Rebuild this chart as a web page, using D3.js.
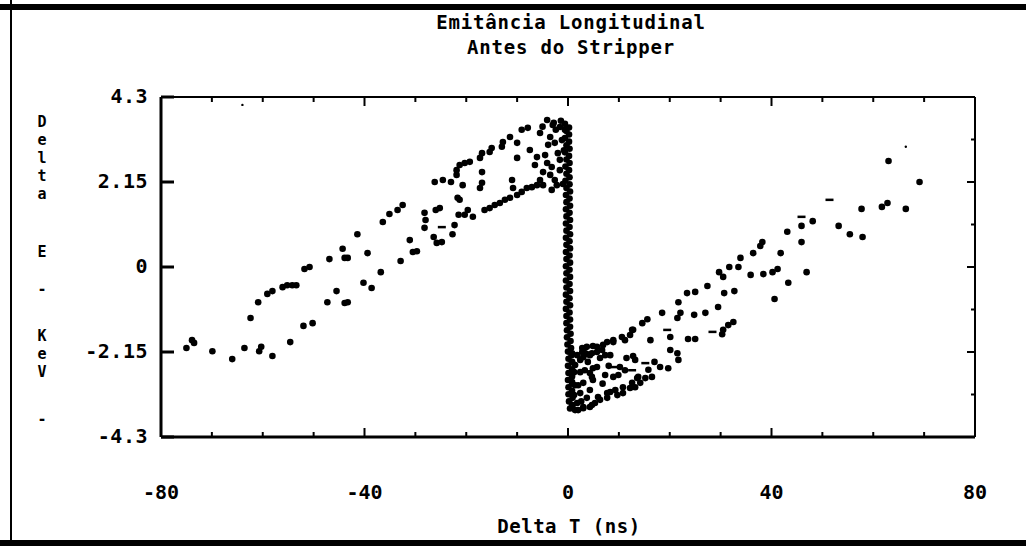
<!DOCTYPE html>
<html>
<head>
<meta charset="utf-8">
<script src="https://cdn.jsdelivr.net/npm/d3@7"></script>
<style>
  body { margin: 0; background: #fff; }
  text { font-family: "DejaVu Sans Mono", monospace; font-weight: bold; fill: #000; }
</style>
</head>
<body>
<script>
//chart texts
const titleLines = ["Emitância Longitudinal", "Antes do Stripper"];
const xTitle = "Delta T (ns)";
const yTitleChars = ["D", "e", "l", "t", "a", "E", "-", "K", "e", "V", "-"];

//tick values and labels
const xMajorTicks = [-80, -40, 0, 40, 80];
const xMinorTicks = [-70, -60, -50, -30, -20, -10, 10, 20, 30, 50, 60, 70];
const yTicks = [-4.3, -2.15, 0, 2.15, 4.3];
const yTickLabels = ["-4.3", "-2.15", "0", "2.15", "4.3"];
const yMinorTicks = [-3.225, -1.075, 1.075, 3.225];

//data [delta T (ns), delta E (keV)]
const leftBranch = [
  [-75.0,-2.05],[-73.9,-1.85],[-73.5,-1.92],[-69.9,-2.13],[-66.0,-2.33],[-63.6,-2.05],[-62.4,-1.29],
  [-60.9,-0.89],[-60.7,-2.13],[-60.3,-2.02],[-59.1,-0.68],[-58.1,-0.61],[-58.1,-2.25],[-56.1,-0.51],
  [-55.2,-0.46],[-54.2,-0.46],[-53.4,-0.46],[-54.6,-1.90],[-52.0,-1.49],[-51.8,-0.05],[-50.8,0.0],
  [-50.2,-1.42],[-47.3,-0.89],[-46.9,0.20],[-45.5,-0.61],[-44.3,0.46],[-43.9,-0.91],[-43.3,-0.89],
  [-43.9,0.23],[-43.3,0.23],[-41.4,0.83],[-40.2,-0.40],[-39.4,0.35],[-38.6,-0.53],[-36.8,-0.13],
  [-36.4,1.14],[-35.1,1.34],[-33.5,1.44],[-32.5,1.57],[-32.9,0.15],[-31.1,0.68],[-30.5,0.38],
  [-29.7,0.40],[-28.2,1.37],[-28.0,1.19],[-28.2,0.99],[-26.0,1.44],[-26.4,0.76],[-25.8,0.61],
  [-26.2,2.15],[-24.6,2.20],[-23.0,2.15],[-22.7,0.83],[-22.3,1.06],[-21.9,2.45],[-21.7,1.75],
  [-21.5,1.32],[-25.2,1.49],[-24.8,0.63]
];

const upperCluster = [
  [-21.9,2.33],[-21.3,2.58],[-20.3,2.63],[-19.3,2.66],[-20.7,2.07],[-18.7,1.27],[-19.7,1.44],
  [-20.3,1.32],[-21.3,1.70],[-17.3,2.76],[-16.9,2.88],[-15.4,2.91],[-15.0,3.01],[-16.9,2.40],
  [-16.9,2.13],[-17.3,2.00],[-16.4,1.44],[-15.4,1.49],[-14.4,1.57],[-13.4,1.62],[-12.4,1.70],
  [-11.4,1.75],[-10.0,1.82],[-9.1,1.90],[-8.1,2.00],[-7.1,2.02],[-6.1,2.07],[-13.0,3.04],
  [-12.8,3.16],[-11.4,3.29],[-10.0,3.14],[-10.0,2.76],[-11.0,2.20],[-10.8,2.00],[-9.1,3.47],
  [-7.9,3.52],[-7.5,2.96],[-6.5,2.58],[-6.1,2.78],[-5.5,3.39],[-5.5,2.20],[-4.9,2.40],
  [-4.9,2.07],[-4.1,3.72],[-4.1,2.63],[-3.5,3.29],[-3.5,2.33],[-3.2,2.53],[-3.0,3.59],
  [-2.6,3.14],[-2.6,2.20],[-2.2,2.07],[-2.0,2.88],[-1.6,3.54],[-0.6,3.47],[-4.5,2.83],
  [-3.9,3.09],[-3.2,1.95],[-1.6,2.45],[-1.2,3.21],[-1.6,2.71],[-2.4,3.47],[-1.0,2.10],
  [-0.8,2.95],[-1.4,3.70],[-2.8,3.65],[-5.0,3.55]
];

const spike = [
  [-0.6,3.62],[0.2,3.53],[-0.3,3.44],[0.2,3.35],[-0.6,3.26],[0.2,3.17],[-0.3,3.08],[0.3,2.99],
  [-0.6,2.90],[0.2,2.81],[-0.3,2.72],[0.3,2.63],[-0.5,2.54],[0.2,2.45],[-0.3,2.36],[0.3,2.27],
  [-0.5,2.18],[0.3,2.09],[-0.3,2.00],[0.4,1.91],[-0.4,1.82],[0.3,1.73],[-0.3,1.64],[0.4,1.55],
  [-0.4,1.46],[0.3,1.37],[-0.3,1.28],[0.4,1.19],[-0.4,1.10],[0.3,1.01],[-0.3,0.92],[0.4,0.83],
  [-0.4,0.74],[0.3,0.65],[-0.3,0.56],[0.4,0.47],[-0.4,0.38],[0.3,0.29],[-0.3,0.20],[0.4,0.11],
  [-0.4,0.02],[0.3,-0.07],[-0.3,-0.16],[0.4,-0.25],[-0.4,-0.34],[0.3,-0.43],[-0.3,-0.52],[0.4,-0.61],
  [-0.4,-0.70],[0.3,-0.79],[-0.3,-0.88],[0.4,-0.97],[-0.4,-1.06],[0.3,-1.15],[-0.3,-1.24],[0.4,-1.33],
  [-0.3,-1.42],[0.4,-1.51],[-0.2,-1.60],[0.5,-1.69],[-0.2,-1.78],[0.5,-1.87],[-0.1,-1.96],[0.6,-2.05],
  [0.0,-2.14],[0.7,-2.23],[0.1,-2.32],[0.8,-2.41],[0.0,-2.50],[0.8,-2.59],[0.1,-2.68],[0.8,-2.77],
  [0.0,-2.86],[0.8,-2.95],[0.1,-3.04],[0.8,-3.13],[0.1,-3.22],[0.9,-3.31],[0.2,-3.40],[0.9,-3.49],
  [0.4,-3.58]
];

const lowerCluster = [
  [0.8,-2.18],[1.8,-2.23],[2.8,-2.15],[3.7,-2.20],[4.7,-2.18],[5.7,-2.15],[6.7,-2.10],[3.3,-2.05],
  [5.7,-2.02],[7.7,-1.90],[8.9,-1.85],[10.6,-1.77],[12.6,-1.59],[13.2,-2.35],[10.2,-2.53],[8.9,-2.78],
  [5.7,-2.53],[4.7,-2.78],[3.0,-2.93],[2.4,-3.19],[4.3,-3.11],[5.9,-3.29],[7.7,-3.19],[9.3,-3.11],
  [10.8,-3.04],[12.6,-2.93],[13.8,-2.78],[1.8,-3.44],[3.0,-3.54],[4.7,-3.49],[6.3,-3.36],[1.4,-3.62],
  [3.7,-3.31],[1.4,-2.48],[2.4,-2.66],[3.9,-2.40],[1.4,-2.99],[7.3,-2.73],[11.2,-2.61],[0.8,-2.40],
  [1.2,-2.66],[0.8,-2.91],[1.2,-3.24],[2.0,-2.99],[2.4,-2.35],[3.3,-2.61],[0.8,-3.49],[13.6,-2.81],
  [15.2,-2.81],[16.5,-2.78],[18.1,-2.53],[19.7,-2.56],[12.8,-2.25],[10.8,-3.19],[9.7,-3.24],[8.3,-3.16],
  [12.2,-3.06],[13.2,-3.04],[14.2,-2.93],[7.7,-3.31],[5.3,-3.44],[4.3,-3.54],[3.0,-3.57],[4.9,-2.86],
  [4.3,-2.68],[4.9,-2.56],[9.9,-2.73],[3.0,-2.28],[4.3,-2.23],[6.3,-2.30],[7.3,-2.23],[8.3,-2.23],
  [2.0,-3.62],[2.6,-3.40],[6.8,-2.95],[8.0,-2.50],[11.5,-2.30],[15.8,-2.60],[17.0,-2.40]
];

const rightBranch = [
  [2.8,-2.05],[3.7,-2.02],[4.9,-2.00],[6.9,-1.97],[8.9,-1.90],[11.2,-1.85],[12.2,-1.72],[12.8,-1.59],
  [14.6,-1.42],[15.6,-1.32],[16.2,-1.85],[18.5,-1.16],[20.1,-1.77],[20.1,-2.10],[21.5,-2.18],[21.7,-2.35],
  [21.5,-1.29],[22.1,-1.16],[21.7,-0.89],[23.4,-0.66],[23.6,-1.82],[25.0,-1.82],[25.0,-0.63],[24.8,-1.21],
  [27.0,-1.16],[27.4,-0.48],[29.5,-1.01],[29.7,-0.13],[30.3,-1.70],[30.5,-1.59],[30.5,-0.25],[30.7,-0.66],
  [31.5,-1.47],[31.7,0.0],[32.5,-1.39],[32.7,-0.61],[33.5,0.0],[33.9,0.23],[35.9,-0.20],[36.4,0.35],
  [37.8,0.53],[38.2,0.63],[38.4,-0.18],[40.2,-0.13],[40.6,-0.81],[41.2,-0.05],[41.8,0.35],[43.1,0.89],
  [43.3,-0.40],[45.9,0.63],[45.9,1.04],[46.9,-0.13],[48.1,1.16],[53.2,1.04],[55.4,0.83],[57.7,1.47],
  [57.9,0.76],[61.7,1.52],[62.8,1.62],[63.0,2.68],[66.4,1.47],[69.1,2.15]
];

//points that print as short dashes, and faint specks
const dashPoints = [[-24.8,1.01],[45.9,1.27],[51.4,1.70],[19.5,-1.59],[28.4,-1.64],[15.2,-2.43],[12.6,-2.61],[9.0,-2.53]];
const speckPoints = [[-64.0,4.10],[66.4,3.04]];

//layout
const W = 1026, H = 546;
const plot = {left: 161, right: 975, top: 97, bottom: 437};

const svg = d3.select("body").append("svg")
  .attr("width", W)
  .attr("height", H);

//outer frame of the scan
svg.append("rect").attr("x", 0).attr("y", 4).attr("width", W).attr("height", 6).attr("fill", "#000");
svg.append("rect").attr("x", 0).attr("y", 540).attr("width", W).attr("height", 6).attr("fill", "#000");
svg.append("rect").attr("x", 10).attr("y", 0).attr("width", 2).attr("height", H).attr("fill", "#000");

//scales
const x = d3.scaleLinear().domain([-80, 80]).range([plot.left, plot.right]);
const y = d3.scaleLinear().domain([-4.3, 4.3]).range([plot.bottom, plot.top]);

//plot box
const axisG = svg.append("g").attr("stroke", "#000").attr("fill", "none");
axisG.append("line").attr("x1", plot.left).attr("x2", plot.right).attr("y1", plot.top).attr("y2", plot.top).attr("stroke-width", 2);
axisG.append("line").attr("x1", plot.left).attr("x2", plot.right).attr("y1", plot.bottom).attr("y2", plot.bottom).attr("stroke-width", 3);
axisG.append("line").attr("x1", plot.left).attr("x2", plot.left).attr("y1", plot.top).attr("y2", plot.bottom).attr("stroke-width", 3);
axisG.append("line").attr("x1", plot.right).attr("x2", plot.right).attr("y1", plot.top).attr("y2", plot.bottom).attr("stroke-width", 2);

//x ticks, bottom (up) and top (down)
const xTickData = xMajorTicks.map(d => ({v: d, len: 9}))
  .concat(xMinorTicks.map(d => ({v: d, len: 5})));
axisG.selectAll(".xb").data(xTickData).enter().append("line")
  .attr("x1", d => x(d.v)).attr("x2", d => x(d.v))
  .attr("y1", plot.bottom).attr("y2", d => plot.bottom - d.len)
  .attr("stroke-width", 2);
axisG.selectAll(".xt").data(xTickData).enter().append("line")
  .attr("x1", d => x(d.v)).attr("x2", d => x(d.v))
  .attr("y1", plot.top).attr("y2", d => plot.top + d.len)
  .attr("stroke-width", 2);

//y ticks, left (long) and right (short + minor)
axisG.selectAll(".yl").data(yTicks).enter().append("line")
  .attr("x1", plot.left).attr("x2", plot.left + 13)
  .attr("y1", d => y(d)).attr("y2", d => y(d))
  .attr("stroke-width", 3);
axisG.selectAll(".yr").data(yTicks.map(d => ({v: d, len: 8})).concat(yMinorTicks.map(d => ({v: d, len: 4}))))
  .enter().append("line")
  .attr("x1", plot.right).attr("x2", d => plot.right - d.len)
  .attr("y1", d => y(d.v)).attr("y2", d => y(d.v))
  .attr("stroke-width", 2);

//tick labels
svg.selectAll(".xlab").data(xMajorTicks).enter().append("text")
  .attr("x", d => x(d))
  .attr("y", 493)
  .attr("text-anchor", "middle")
  .attr("dominant-baseline", "middle")
  .attr("font-size", 20)
  .text(d => d);

svg.selectAll(".ylab").data(yTicks).enter().append("text")
  .attr("x", 148)
  .attr("y", d => y(d))
  .attr("text-anchor", "end")
  .attr("dominant-baseline", "middle")
  .attr("font-size", 20)
  .attr("letter-spacing", 0.5)
  .text((d, i) => yTickLabels[i]);

//titles
svg.selectAll(".title").data(titleLines).enter().append("text")
  .attr("x", 571)
  .attr("y", (d, i) => 23 + i * 25)
  .attr("text-anchor", "middle")
  .attr("dominant-baseline", "middle")
  .attr("font-size", 19)
  .attr("letter-spacing", 0.8)
  .text(d => d);

svg.append("text")
  .attr("x", 569)
  .attr("y", 527)
  .attr("text-anchor", "middle")
  .attr("dominant-baseline", "middle")
  .attr("font-size", 19)
  .attr("letter-spacing", 0.5)
  .text(xTitle);

//vertical y title, one letter per row
const yTitleRows = [122, 140, 158, 176, 194, 252, 289, 336, 354, 372, 419];
svg.selectAll(".ytitle").data(yTitleChars).enter().append("text")
  .attr("x", 42)
  .attr("y", (d, i) => yTitleRows[i])
  .attr("text-anchor", "middle")
  .attr("dominant-baseline", "middle")
  .attr("font-size", 15)
  .text(d => d);

//dots
const allDots = leftBranch.concat(upperCluster, spike, lowerCluster, rightBranch);
svg.append("g").selectAll("circle").data(allDots).enter().append("circle")
  .attr("cx", d => x(d[0]))
  .attr("cy", d => y(d[1]))
  .attr("r", 3.3)
  .attr("fill", "#000");

svg.append("g").selectAll("rect").data(dashPoints).enter().append("rect")
  .attr("x", d => x(d[0]) - 4)
  .attr("y", d => y(d[1]) - 1.2)
  .attr("width", 8)
  .attr("height", 2.5)
  .attr("fill", "#000");

svg.append("g").selectAll("circle").data(speckPoints).enter().append("circle")
  .attr("cx", d => x(d[0]))
  .attr("cy", d => y(d[1]))
  .attr("r", 1.2)
  .attr("fill", "#000");
</script>
</body>
</html>
